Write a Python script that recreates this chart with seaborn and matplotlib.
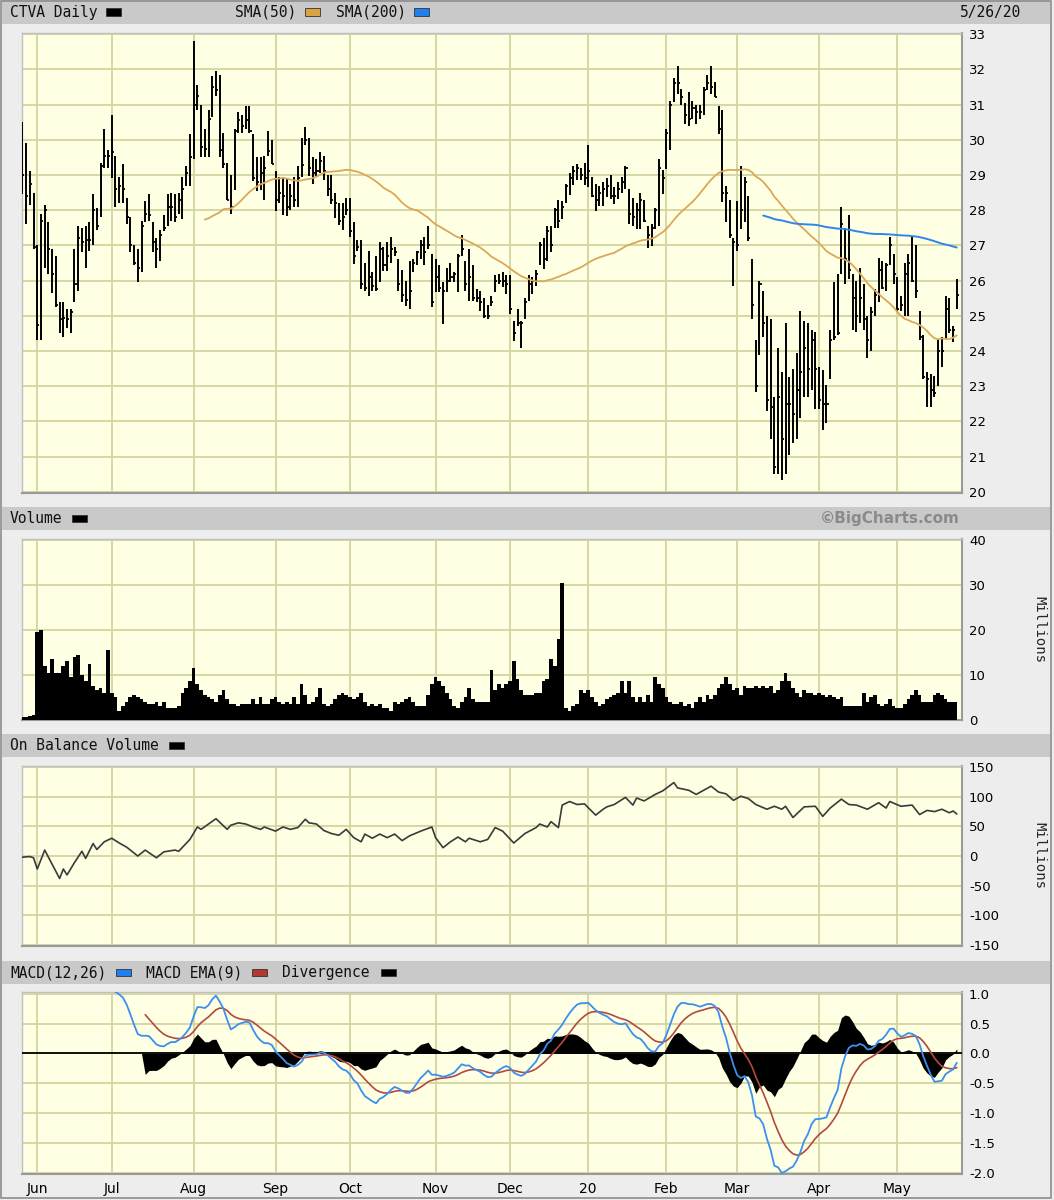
import numpy as np
import pandas as pd
import matplotlib
matplotlib.use("Agg")
import matplotlib.pyplot as plt
import seaborn as sns
from matplotlib.patches import Rectangle

# ---------------- data ----------------
start_date = "2019-05-28"
end_date = "2020-05-26"
holidays = ["2019-07-04", "2019-09-02", "2019-11-28", "2019-12-25", "2020-01-01",
            "2020-01-20", "2020-02-17", "2020-04-10", "2020-05-25"]
month_labels = ["Jun", "Jul", "Aug", "Sep", "Oct", "Nov", "Dec", "20", "Feb", "Mar", "Apr", "May"]

high = [
    30.5, 29.9, 29.1, 28.5, 27.0, 27.9, 28.15, 27.65, 26.9, 26.7,
    25.4, 25.4, 25.2, 25.2, 26.9, 27.55, 27.5, 27.55, 27.65, 28.45,
    28.05, 29.35, 30.3, 29.7, 30.7, 29.55, 28.95, 29.3, 28.35, 27.8,
    27.0, 26.9, 27.7, 28.25, 28.45, 27.65, 27.2, 27.45, 27.85, 28.45,
    28.5, 28.45, 28.5, 28.95, 29.25, 30.15, 32.8, 31.55, 31.0, 30.3,
    30.85, 31.8, 31.95, 31.85, 30.2, 29.35, 29.0, 30.3, 30.8, 30.7,
    30.97, 30.95, 30.15, 29.5, 29.5, 29.55, 30.25, 30.0, 29.1, 28.95,
    28.95, 28.9, 28.75, 28.95, 29.25, 30.05, 30.35, 30.05, 29.5, 29.45,
    29.65, 29.55, 29.0, 29.0, 28.5, 28.2, 28.2, 28.35, 28.35, 27.65,
    27.15, 27.15, 26.5, 26.85, 26.25, 26.7, 27.1, 26.95, 27.1, 27.25,
    26.95, 26.6, 26.3, 26.0, 26.55, 26.6, 26.85, 27.15, 27.25, 27.55,
    26.75, 26.6, 26.45, 25.95, 26.35, 26.5, 26.25, 26.75, 27.3, 26.55,
    26.9, 26.45, 25.75, 25.7, 25.5, 25.3, 25.55, 26.15, 26.2, 26.25,
    26.15, 26.15, 24.85, 25.2, 24.85, 25.5, 26.15, 26.1, 26.3, 27.1,
    27.2, 27.55, 27.55, 28.05, 28.3, 28.25, 28.75, 29.05, 29.25, 29.3,
    29.2, 29.35, 29.85, 28.95, 28.75, 28.7, 28.8, 28.9, 29.0, 28.65,
    28.8, 28.95, 29.25, 28.6, 28.35, 28.2, 28.5, 28.3, 27.55, 27.6,
    28.05, 29.45, 29.15, 30.3, 31.1, 31.75, 32.1, 31.45, 31.05, 31.35,
    31.1, 31.0, 31.0, 31.5, 31.85, 32.1, 31.65, 30.95, 30.85, 28.7,
    28.3, 27.2, 28.25, 29.25, 28.95, 28.4, 26.6, 24.3, 26.0, 25.7,
    25.0, 24.9, 22.7, 24.1, 23.4, 24.8, 23.25, 23.5, 23.95, 25.15,
    24.85, 24.8, 24.6, 24.55, 23.55, 23.45, 23.05, 24.6, 25.95, 26.2,
    28.1, 27.5, 27.85, 26.2, 26.0, 26.35, 25.9, 25.0, 25.25, 25.75,
    26.65, 26.55, 26.5, 27.25, 26.75, 26.1, 25.55, 26.5, 26.75, 27.25,
    27.0, 25.15, 24.45, 23.4, 23.35, 23.3, 24.3, 24.4, 25.55, 25.5,
    24.7, 26.05]

low = [
    28.45, 27.6, 28.15, 26.9, 24.3, 24.3, 26.35, 26.2, 25.65, 25.25,
    24.5, 24.4, 24.65, 24.5, 25.4, 25.7, 26.8, 26.35, 26.85, 27.0,
    27.45, 27.8, 29.2, 29.2, 28.9, 28.1, 28.2, 28.2, 27.6, 26.8,
    26.45, 25.95, 26.25, 27.65, 27.7, 26.8, 26.35, 26.55, 27.4, 27.55,
    27.7, 27.65, 27.9, 27.75, 28.7, 28.7, 29.45, 30.85, 29.5, 29.5,
    29.5, 30.65, 31.25, 29.5, 29.2, 28.3, 27.9, 28.58, 30.2, 30.2,
    30.3, 30.2, 28.82, 28.54, 28.58, 28.3, 29.53, 29.3, 27.97, 28.2,
    27.87, 27.84, 28.0, 28.1, 28.1, 28.94, 29.86, 28.98, 28.73, 28.96,
    29.05, 28.87, 28.41, 28.18, 27.78, 27.59, 27.44, 27.85, 27.25, 26.48,
    26.83, 25.76, 25.7, 25.55, 25.7, 25.7, 25.95, 26.26, 26.26, 26.5,
    26.69, 25.7, 25.4, 25.29, 25.19, 26.24, 26.43, 26.62, 26.43, 26.9,
    25.24, 25.67, 25.67, 24.76, 25.67, 25.95, 25.95, 25.67, 26.71, 25.71,
    25.43, 25.43, 25.38, 25.14, 24.95, 24.9, 25.29, 25.67, 25.9, 25.81,
    25.62, 25.05, 24.29, 24.71, 24.1, 24.9, 25.43, 25.62, 25.86, 26.43,
    26.33, 26.57, 26.81, 27.48, 27.48, 27.76, 28.19, 28.43, 28.71, 28.86,
    28.86, 28.71, 28.65, 28.38, 27.98, 28.13, 28.13, 28.36, 28.32, 28.17,
    28.32, 28.5, 28.6, 27.6, 27.55, 27.46, 27.46, 27.65, 26.94, 26.98,
    27.46, 27.55, 28.46, 29.17, 29.7, 31.07, 31.3, 31.0, 30.45, 30.4,
    30.6, 30.45, 30.6, 30.69, 31.4, 31.3, 31.2, 30.17, 28.22, 27.65,
    27.22, 25.85, 26.84, 27.46, 27.65, 27.13, 24.9, 22.85, 23.9, 24.4,
    22.3, 21.5, 20.5, 20.5, 20.35, 20.5, 21.05, 21.4, 21.5, 22.1,
    22.7, 22.7, 22.9, 22.35, 22.35, 21.75, 21.95, 23.2, 24.3, 24.45,
    26.2, 25.9, 26.05, 24.6, 24.55, 24.8, 24.6, 23.8, 24.0, 25.0,
    25.4, 25.75, 25.7, 26.45, 25.9, 25.1, 25.15, 25.0, 25.0, 25.95,
    25.5, 24.3, 23.2, 22.4, 22.4, 22.7, 23.0, 23.55, 24.35, 24.5,
    24.25, 25.2]

close = [
    29.0, 28.4, 28.75, 26.95, 24.75, 27.7, 28.0, 26.9, 26.2, 25.3,
    24.9, 24.95, 24.9, 25.1, 25.9, 27.2, 27.1, 27.15, 27.15, 28.0,
    27.55, 29.25, 29.55, 29.55, 29.65, 28.6, 28.7, 28.6, 27.8, 27.0,
    26.5, 26.35, 27.55, 27.9, 27.85, 27.1, 26.9, 27.3, 27.5, 28.1,
    28.1, 27.8, 28.3, 28.6, 29.05, 29.5, 31.0, 31.25, 29.8, 29.75,
    30.6, 31.5, 31.4, 29.7, 29.3, 28.3, 28.1, 30.25, 30.57, 30.4,
    30.55, 30.25, 28.9, 28.8, 29.05, 29.2, 29.67, 29.3, 28.3, 28.5,
    28.4, 28.1, 28.4, 28.3, 28.9, 29.27, 30.0, 29.2, 29.05, 29.1,
    29.4, 29.1, 28.6, 28.3, 28.2, 27.7, 27.8, 28.0, 27.4, 26.7,
    26.95, 25.9, 25.8, 26.1, 25.85, 25.75, 26.9, 26.45, 26.7, 26.9,
    26.8, 25.9, 25.6, 25.45, 25.7, 26.5, 26.8, 27.0, 26.8, 27.0,
    25.4, 26.1, 25.8, 25.7, 26.0, 26.1, 26.2, 26.7, 26.9, 25.9,
    26.1, 25.5, 25.5, 25.4, 25.0, 25.0, 25.4, 26.0, 26.0, 26.0,
    25.9, 25.2, 24.5, 24.8, 24.8, 25.4, 25.9, 26.0, 26.2, 27.0,
    26.6, 27.4, 27.0, 28.0, 27.7, 28.1, 28.7, 28.9, 29.1, 29.2,
    29.0, 28.9, 29.1, 28.4, 28.3, 28.5, 28.6, 28.7, 28.4, 28.4,
    28.6, 28.8, 29.2, 27.9, 27.8, 28.0, 28.3, 27.7, 27.3, 27.5,
    28.0, 29.2, 28.9, 30.2, 31.0, 31.6, 31.6, 31.2, 30.7, 30.6,
    30.9, 30.8, 30.8, 31.4, 31.6, 31.5, 31.2, 30.3, 28.5, 28.5,
    27.3, 27.1, 27.0, 28.0, 28.8, 27.2, 25.3, 23.0, 25.9, 24.8,
    22.6, 22.4, 20.7, 22.7, 21.5, 22.5, 22.5, 22.2, 22.9, 23.4,
    24.1, 23.5, 24.3, 23.5, 22.6, 22.5, 22.5, 24.3, 24.4, 24.5,
    27.6, 26.6, 26.3, 25.5, 25.0, 25.5, 24.9, 24.3, 25.1, 25.6,
    26.3, 25.8, 26.45, 27.0, 26.2, 25.2, 25.3, 26.2, 26.5, 26.0,
    25.7, 24.4, 23.25, 23.2, 22.9, 22.8, 24.0, 24.0, 25.2, 24.6,
    24.6, 25.6]

volume_m = [
    0.5, 0.6, 0.8, 1.0, 19.5, 20.0, 12.0, 10.5, 13.5, 10.5,
    10.5, 12.0, 13.0, 9.5, 14.0, 14.5, 10.0, 8.5, 12.5, 7.5,
    6.5, 7.0, 6.0, 15.5, 6.0, 5.0, 2.0, 3.0, 4.0, 5.0,
    5.5, 5.0, 4.5, 4.0, 3.5, 3.5, 4.0, 3.0, 4.0, 2.5,
    2.5, 2.5, 3.0, 6.0, 7.0, 8.5, 11.5, 8.0, 6.5, 5.5,
    5.0, 4.5, 4.0, 5.5, 6.5, 4.5, 3.5, 3.5, 3.0, 3.5,
    3.5, 3.5, 4.5, 3.5, 5.0, 3.5, 3.5, 4.5, 5.0, 4.0,
    3.5, 4.0, 3.5, 5.0, 3.5, 8.0, 5.5, 3.5, 4.0, 5.0,
    7.0, 3.5, 3.0, 3.5, 4.5, 5.5, 6.0, 5.5, 5.0, 4.5,
    5.0, 6.0, 4.0, 3.0, 3.5, 3.0, 3.5, 2.5, 2.5, 2.0,
    4.0, 3.5, 4.0, 4.5, 5.0, 4.0, 3.0, 3.0, 3.0, 5.5,
    8.0, 9.5, 8.5, 7.5, 6.0, 4.5, 3.0, 2.5, 4.0, 5.0,
    7.0, 4.5, 4.0, 4.0, 4.0, 4.0, 11.0, 6.5, 8.0, 7.0,
    8.0, 8.5, 13.0, 9.0, 6.5, 5.5, 5.5, 5.5, 6.0, 6.0,
    8.5, 9.0, 13.5, 12.0, 18.0, 30.5, 2.5, 2.0, 3.0, 3.5,
    6.5, 6.0, 6.5, 5.0, 4.0, 3.0, 3.5, 4.5, 5.0, 5.5,
    6.0, 8.5, 6.0, 8.5, 5.0, 4.0, 5.0, 4.0, 5.5, 4.0,
    9.5, 8.0, 7.0, 5.0, 4.0, 3.5, 3.5, 4.0, 3.0, 3.5,
    2.5, 4.0, 5.0, 4.0, 5.5, 4.5, 5.5, 7.0, 8.0, 9.5,
    8.0, 6.5, 7.0, 5.5, 7.5, 7.0, 7.0, 7.5, 7.0, 7.5,
    7.0, 7.5, 6.0, 6.5, 8.5, 10.5, 8.5, 7.0, 6.0, 5.0,
    6.5, 6.0, 6.0, 5.5, 6.0, 5.5, 5.0, 5.5, 5.0, 4.5,
    5.0, 3.0, 3.0, 3.0, 3.0, 3.0, 6.0, 4.0, 5.0, 5.5,
    3.5, 3.0, 3.5, 4.5, 3.0, 2.5, 2.5, 3.5, 4.5, 5.5,
    6.5, 5.5, 4.0, 4.0, 4.0, 5.5, 6.0, 5.5, 4.5, 4.0,
    4.0, 4.0]

obv_idx = [0, 2, 3, 4, 6, 8, 10, 11, 12, 14, 16, 17, 19, 20, 22, 24, 26, 28, 31, 33,
           36, 38, 41, 42, 45, 47, 48, 52, 55, 56, 58, 60, 62, 64, 65, 68, 70, 72, 74, 76,
           77, 79, 81, 83, 85, 87, 89, 91, 92, 94, 96, 98, 100, 102, 104, 107, 110, 111, 113, 115,
           117, 119, 120, 123, 125, 127, 129, 132, 135, 138, 139, 141, 142, 144, 145, 147, 149, 151, 154, 156,
           157, 159, 162, 164, 165, 167, 170, 172, 175, 176, 179, 181, 185, 187, 189, 191, 193, 195, 197, 200,
           202, 204, 205, 207, 210, 213, 215, 217, 220, 222, 224, 227, 230, 232, 233, 236, 239, 241, 243, 245,
           247, 249, 250, 251]
obv_m = [-2, -1, -3, -22, 10, -14, -38, -22, -32, -11, 8, -4, 21, 11, 24, 30, 22, 15, 0, 10,
         -3, 7, 10, 8, 28, 49, 45, 63, 45, 52, 56, 54, 49, 45, 49, 42, 49, 45, 48, 62,
         56, 54, 43, 38, 35, 45, 31, 24, 37, 30, 37, 31, 37, 26, 34, 42, 49, 31, 14, 24,
         32, 24, 30, 24, 28, 48, 42, 22, 38, 48, 54, 49, 58, 48, 86, 92, 87, 88, 69, 79,
         83, 87, 99, 86, 98, 93, 104, 110, 124, 115, 111, 104, 118, 108, 105, 94, 101, 97, 87, 79,
         84, 79, 84, 65, 83, 84, 67, 81, 96, 87, 86, 79, 90, 81, 92, 84, 86, 70, 77, 75,
         79, 73, 76, 71]

# ---------------- derived series ----------------
dates = pd.bdate_range(start_date, end_date)
dates = dates[~dates.isin(pd.to_datetime(holidays))]
n = len(dates)
df = pd.DataFrame({"i": np.arange(n), "high": high, "low": low, "close": close, "volume": volume_m})
df["sma50"] = df["close"].rolling(50).mean()
df["sma200"] = df["close"].rolling(200).mean()


def ema_sma_seeded(values, span):
    """Exponential moving average seeded with the simple average of the first `span` values."""
    values = np.asarray(values, dtype=float)
    out = np.full(len(values), np.nan)
    valid = np.where(~np.isnan(values))[0]
    first = valid[0]
    seed = first + span - 1
    alpha = 2.0 / (span + 1)
    out[seed] = values[first:seed + 1].mean()
    for k in range(seed + 1, len(values)):
        out[k] = alpha * values[k] + (1 - alpha) * out[k - 1]
    return out


ema12 = ema_sma_seeded(df["close"], 12)
ema26 = ema_sma_seeded(df["close"], 26)
df["macd"] = ema12 - ema26
df["signal"] = ema_sma_seeded(df["macd"], 9)
df["div"] = df["macd"] - df["signal"]
obv_df = pd.DataFrame({"i": obv_idx, "obv": obv_m})

months = dates.to_period("M")
month_starts = [k for k in range(1, n) if months[k] != months[k - 1]]

# ---------------- style ----------------
sns.set_theme(style="white")
plt.rcParams["font.family"] = ["DejaVu Sans"]
plt.rcParams["axes.unicode_minus"] = False

W, H = 1054, 1200
BG = "#ededed"
STRIP = "#c9c9c9"
PLOT_BG = "#ffffe3"
GRID = "#d4d49e"
MONO = "DejaVu Sans Mono"

fig = plt.figure(figsize=(W / 100, H / 100), dpi=100)
fig.patch.set_facecolor(BG)


def rect_px(x0, y0, x1, y1):
    return [x0 / W, 1 - y1 / H, (x1 - x0) / W, (y1 - y0) / H]


def strip(y0, y1):
    fig.add_artist(Rectangle((2 / W, 1 - y1 / H), 1048 / W, (y1 - y0) / H,
                             transform=fig.transFigure, facecolor=STRIP, edgecolor="none", zorder=0))


def ftext(x, y, s, **kw):
    fig.text(x / W, 1 - y / H, s, va="center", **kw)


def swatch(x, y, color):
    fig.add_artist(Rectangle((x / W, 1 - (y + 3.5) / H), 15 / W, 7 / H, transform=fig.transFigure,
                             facecolor=color, edgecolor="#333333", linewidth=0.6, zorder=3))


# outer frame
fig.add_artist(Rectangle((1 / W, 2 / H), 1050 / W, 1197 / H, transform=fig.transFigure,
                         facecolor="none", edgecolor="#8c8c8c", linewidth=1.2, zorder=5))

for y0, y1 in [(0, 24), (507, 530), (734, 757), (961, 984)]:
    strip(y0, y1)

XLIM = (-0.1, n + 0.4)


def style_ax(ax, yticks, ylim, fmt=None):
    ax.set_facecolor(PLOT_BG)
    ax.set_xlim(*XLIM)
    ax.set_ylim(*ylim)
    ax.set_xticks(month_starts)
    ax.set_yticks(yticks)
    if fmt:
        ax.set_yticklabels([fmt.format(v) for v in yticks])
    ax.yaxis.tick_right()
    ax.grid(True, color=GRID, linewidth=1.3, zorder=0)
    ax.set_axisbelow(True)
    ax.tick_params(axis="both", length=0, labelsize=9.5, colors="black", pad=5)
    ax.tick_params(axis="x", labelbottom=False)
    ax.set_xlabel("")
    ax.set_ylabel("")
    for side, sp in ax.spines.items():
        sp.set_visible(True)
        sp.set_color("#9a9a9a" if side in ("right", "bottom") else "#c0c0c0")
        sp.set_linewidth(1.5 if side in ("right", "bottom") else 1.0)


# ---------------- price panel ----------------
ax1 = fig.add_axes(rect_px(22, 33, 962, 493))
style_ax(ax1, list(range(20, 34)), (19.97, 33.03))
ax1.vlines(df["i"], df["low"], df["high"], color="black", linewidth=1.4, zorder=3)
ax1.hlines(df["close"], df["i"], df["i"] + 0.55, color="black", linewidth=1.3, zorder=3)
sns.lineplot(data=df, x="i", y="sma50", ax=ax1, color="#dba85a", linewidth=1.3, legend=False, zorder=4)
sns.lineplot(data=df, x="i", y="sma200", ax=ax1, color="#2f86ea", linewidth=1.4, legend=False, zorder=4)
ax1.set_xlabel("")
ax1.set_ylabel("")

ftext(10, 12, "CTVA Daily", fontfamily=MONO, fontsize=10.5, color="#111111")
swatch(106, 12, "black")
ftext(235, 12, "SMA(50)", fontfamily=MONO, fontsize=10.5, color="#111111")
swatch(305, 12, "#d9a441")
ftext(336, 12, "SMA(200)", fontfamily=MONO, fontsize=10.5, color="#111111")
swatch(414, 12, "#1e7ff0")
ftext(1021, 12, "5/26/20", fontfamily=MONO, fontsize=10.5, color="#111111", ha="right")

# ---------------- volume panel ----------------
ax2 = fig.add_axes(rect_px(22, 539, 962, 720))
style_ax(ax2, [0, 10, 20, 30, 40], (-0.1, 40.3))
ax2.fill_between(df["i"], 0, df["volume"], step="mid", color="black", linewidth=0, zorder=3)
ftext(10, 518.5, "Volume", fontfamily=MONO, fontsize=10.5, color="#111111")
swatch(72, 518.5, "black")
ftext(960, 518.5, "\u00a9BigCharts.com", fontsize=11, fontweight="bold", color="#8a8a8a", ha="right")
ftext(1039, 629, "Millions", fontfamily=MONO, fontsize=10, rotation=270, ha="center")

# ---------------- OBV panel ----------------
ax3 = fig.add_axes(rect_px(22, 766, 962, 946))
style_ax(ax3, [-150, -100, -50, 0, 50, 100, 150], (-152, 152))
sns.lineplot(data=obv_df, x="i", y="obv", ax=ax3, color="#3a3a3a", linewidth=1.2, legend=False, zorder=3)
ax3.set_xlabel("")
ax3.set_ylabel("")
ftext(10, 745.5, "On Balance Volume", fontfamily=MONO, fontsize=10.5, color="#111111")
swatch(169, 745.5, "black")
ftext(1039, 856, "Millions", fontfamily=MONO, fontsize=10, rotation=270, ha="center")

# ---------------- MACD panel ----------------
ax4 = fig.add_axes(rect_px(22, 992, 962, 1174))
style_ax(ax4, [-2.0, -1.5, -1.0, -0.5, 0.0, 0.5, 1.0], (-2.02, 1.03), fmt="{:.1f}")
ax4.fill_between(df["i"], 0, df["div"].fillna(0), color="black", linewidth=0, zorder=3)
ax4.axhline(0, color="black", linewidth=1.3, zorder=4)
sns.lineplot(data=df, x="i", y="signal", ax=ax4, color="#b24a3c", linewidth=1.2, legend=False, zorder=5)
sns.lineplot(data=df, x="i", y="macd", ax=ax4, color="#3b8ff0", linewidth=1.3, legend=False, zorder=6)
ax4.set_xlabel("")
ax4.set_ylabel("")
ax4.set_xticks(month_starts)
ax4.set_xticklabels(month_labels)
ax4.tick_params(axis="x", labelbottom=True, labelsize=10, pad=6)

ftext(10, 972.5, "MACD(12,26)", fontfamily=MONO, fontsize=10.5, color="#111111")
swatch(116, 972.5, "#1e7ff0")
ftext(146, 972.5, "MACD EMA(9)", fontfamily=MONO, fontsize=10.5, color="#111111")
swatch(252, 972.5, "#b03a30")
ftext(282, 972.5, "Divergence", fontfamily=MONO, fontsize=10.5, color="#111111")
swatch(381, 972.5, "black")

fig.savefig("out.png", dpi=100, facecolor=fig.get_facecolor())
